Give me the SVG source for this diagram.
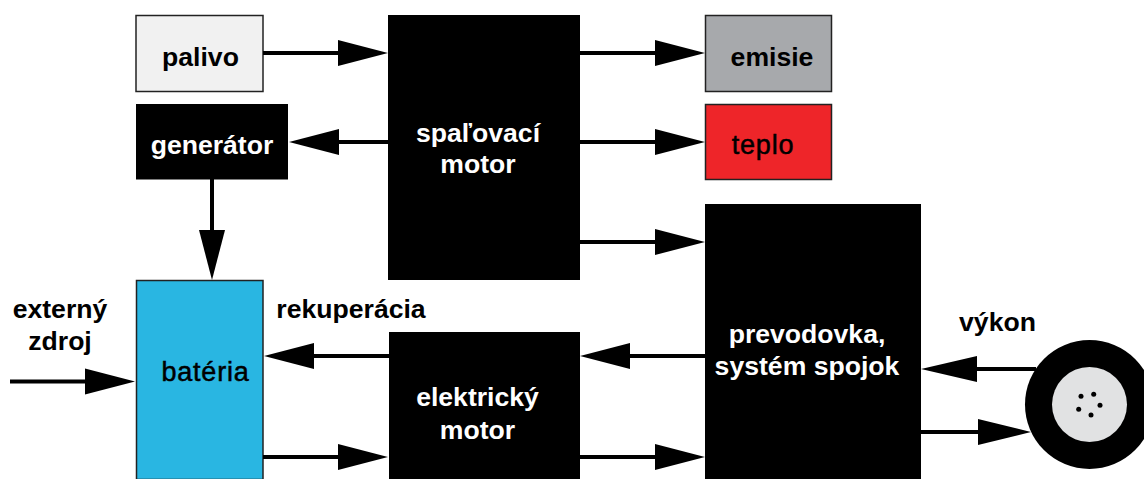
<svg xmlns="http://www.w3.org/2000/svg" width="1144" height="479" viewBox="0 0 1144 479">
<style>
text{font-family:"Liberation Sans",Arial,sans-serif;font-weight:700;font-size:26.600px;text-anchor:middle}
.w{fill:#fff}.k{fill:#000}
.r{font-weight:400;stroke:#000;stroke-width:.5px;font-size:27px;letter-spacing:.8px}
.b{stroke:#222;stroke-width:1.500px}
.c line{stroke:#000;stroke-width:4}
.c path{fill:#000}
</style>
<rect width="1144" height="479" fill="#fff"/>
<g id="palivo"><rect class="b" x="136" y="15.500" width="127" height="76" fill="#f1f1f1"/><text x="200.500" y="66" class="k">palivo</text></g>
<g id="generator"><rect x="136" y="104" width="152" height="75.500" fill="#000"/><text x="212" y="154" class="w">generátor</text></g>
<g id="spalovaci"><rect x="388" y="15" width="192" height="265" fill="#000"/><text x="478" y="142" class="w">spaľovací</text><text x="478" y="173" class="w">motor</text></g>
<g id="emisie"><rect class="b" x="705.500" y="15.500" width="126" height="76" fill="#a7a9ac"/><text x="772" y="66" class="k">emisie</text></g>
<g id="teplo"><rect class="b" x="705.500" y="104.500" width="126" height="75" fill="#ee2529"/><text x="763" y="154" class="k r">teplo</text></g>
<g id="prevodovka"><rect x="705" y="204" width="216" height="275" fill="#000"/><text x="807" y="342.500" class="w">prevodovka,</text><text x="807" y="374.500" class="w">systém spojok</text></g>
<g id="bateria"><rect class="b" x="136.500" y="280.500" width="126.500" height="199" fill="#29b6e2"/><text x="205.500" y="381" class="k r">batéria</text></g>
<g id="elektricky"><rect x="389" y="332" width="191" height="147" fill="#000"/><text x="477.500" y="406" class="w">elektrický</text><text x="477.500" y="439" class="w">motor</text></g>
<g id="koleso"><circle cx="1089.500" cy="404.500" r="64.500" fill="#000"/><circle cx="1089.500" cy="404.500" r="37.500" fill="#e1e2e3"/><g fill="#000"><circle cx="1093.700" cy="394.300" r="2.500"/><circle cx="1081" cy="396.300" r="2.500"/><circle cx="1100" cy="405.300" r="2.500"/><circle cx="1078.700" cy="409.300" r="2.500"/><circle cx="1091" cy="415" r="2.500"/></g></g>
<g id="labels"><text x="60" y="318">externý</text><text x="60" y="350">zdroj</text><text x="351" y="318">rekuperácia</text><text x="997.500" y="331">výkon</text></g>
<g id="connectors" class="c">
<line x1="263" y1="53" x2="345" y2="53"/><path d="M388 53L338 40V66Z"/>
<line x1="580" y1="53" x2="660" y2="53"/><path d="M705 53L655 40V66Z"/>
<line x1="580" y1="142" x2="660" y2="142"/><path d="M705 142L655 129V155Z"/>
<line x1="580" y1="242" x2="660" y2="242"/><path d="M705 242L655 229V255Z"/>
<line x1="388" y1="142" x2="330" y2="142"/><path d="M289 142L339 129V155Z"/>
<line x1="212" y1="179" x2="212" y2="235"/><path d="M212 280L199 230H225Z"/>
<line x1="10" y1="381.500" x2="90" y2="381.500"/><path d="M135 381.500L85 368.500V394.500Z"/>
<line x1="389" y1="356" x2="305" y2="356"/><path d="M264 356L314 343V369Z"/>
<line x1="263" y1="457" x2="345" y2="457"/><path d="M388 457L338 444V470Z"/>
<line x1="705" y1="356" x2="620" y2="356"/><path d="M580 356L630 343V369Z"/>
<line x1="580" y1="457" x2="660" y2="457"/><path d="M705 457L655 444V470Z"/>
<line x1="1036" y1="369" x2="960" y2="369"/><path d="M921 369L977 356V382Z"/>
<line x1="921" y1="432" x2="985" y2="432"/><path d="M1031 432L978 419V445Z"/>
</g>
</svg>
